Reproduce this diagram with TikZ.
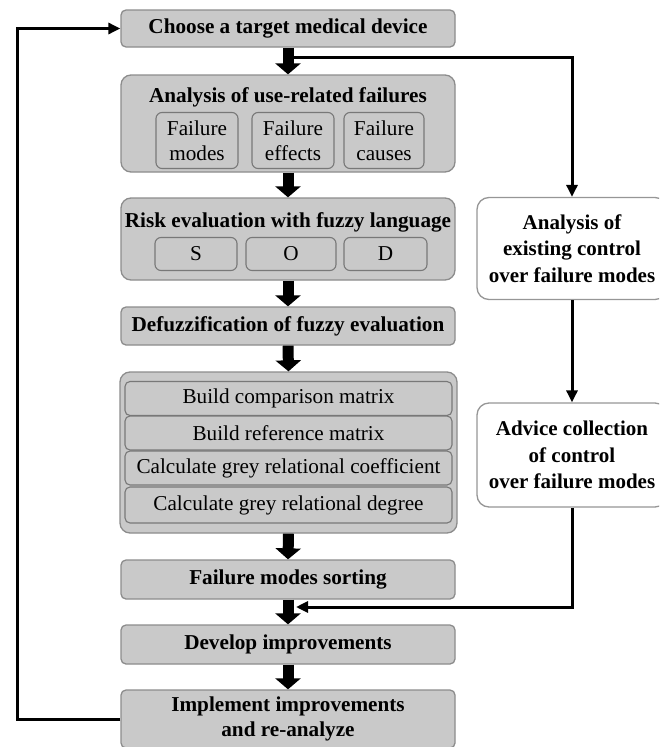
\documentclass[tikz,border=0pt]{standalone}
\usepackage{fontspec}
\setmainfont{Liberation Serif}
\usetikzlibrary{arrows.meta}
\definecolor{boxfill}{RGB}{201,201,201}
\definecolor{boxline}{RGB}{140,140,140}
\definecolor{subline}{RGB}{120,120,120}
\definecolor{whiteline}{RGB}{150,150,150}
\newcommand{\bigsz}{\fontsize{21.2}{25.5}\selectfont}
\newcommand{\sidesz}{\fontsize{21}{26.5}\selectfont}
\tikzset{
  mainbox/.style={draw=boxline, fill=boxfill, rounded corners=5pt, line width=1.3pt, minimum width=334pt, inner sep=0pt, font=\bigsz\bfseries, align=center},
  groupbox/.style={draw=boxline, fill=boxfill, rounded corners=10pt, line width=1.3pt, minimum width=334pt, inner sep=0pt},
  grouptitle/.style={font=\bigsz\bfseries, inner sep=0pt},
  subbox/.style={draw=subline, fill=boxfill, rounded corners=6pt, line width=1.1pt, inner sep=0pt, align=center, font=\bigsz},
  rowbox/.style={draw=subline, fill=boxfill, rounded corners=5pt, line width=1.1pt, inner sep=0pt, minimum width=327pt, minimum height=34pt, font=\bigsz},
  sidebox/.style={draw=whiteline, fill=white, rounded corners=12pt, line width=1.3pt, minimum width=190pt, inner sep=0pt, font=\sidesz\bfseries, align=center},
  bigarrow/.style={line width=11pt, -{Triangle[width=25pt,length=11pt]}},
  thinarrow/.style={line width=3pt, -{Triangle[width=11pt,length=12pt]}}
}
\begin{document}
\begin{tikzpicture}[x=1pt,y=-1pt]
\useasboundingbox (0,0) rectangle (659,747);
\clip (0,0) rectangle (659,747);
% main column
\node[mainbox, minimum height=37pt] (choose) at (288,28.5) {Choose a target medical device};
\node[groupbox, minimum height=97pt] (analysis) at (288,123.5) {};
\node[grouptitle] (analysist) at (288,97) {Analysis of use-related failures};
\node[subbox, minimum width=82pt, minimum height=56pt] (fmodes) at (197,140.5) {Failure\\modes};
\node[subbox, minimum width=82pt, minimum height=56pt] (feffects) at (293,140.5) {Failure\\effects};
\node[subbox, minimum width=80pt, minimum height=56pt] (fcauses) at (384,140.5) {Failure\\causes};

\node[groupbox, minimum height=82pt] (risk) at (288,239) {};
\node[grouptitle] (riskt) at (288,222) {Risk evaluation with fuzzy language};
\node[subbox, minimum width=82pt, minimum height=33pt] (s) at (196,254) {S};
\node[subbox, minimum width=90pt, minimum height=33pt] (o) at (291,254) {O};
\node[subbox, minimum width=83pt, minimum height=33pt] (d) at (385.5,254) {D};

\node[mainbox, minimum height=38pt] (defuzz) at (288,326) {Defuzzification of fuzzy evaluation};

\node[groupbox, minimum height=161pt, minimum width=337pt] (grey) at (288.5,452.5) {};
\node[rowbox] (r1) at (288.5,398.5) {Build comparison matrix};
\node[rowbox] (r2) at (288.5,433) {Build reference matrix};
\node[rowbox] (r3) at (288.5,468) {Calculate grey relational coefficient};
\node[rowbox, minimum height=36pt] (r4) at (288.5,505) {Calculate grey relational degree};

\node[mainbox, minimum height=39pt] (sort) at (288,579.5) {Failure modes sorting};
\node[mainbox, minimum height=39pt] (develop) at (288,644.5) {Develop improvements};
\node[mainbox, minimum height=58pt] (impl) at (288,719) {Implement improvements\\and re-analyze};

% thick arrows
\draw[bigarrow] (choose.south) -- (analysis.north);
\draw[bigarrow] (analysis.south) -- (risk.north);
\draw[bigarrow] (risk.south) -- (defuzz.north);
\draw[bigarrow] (defuzz.south) -- (grey.north);
\draw[bigarrow] (grey.south) -- (sort.north);
\draw[bigarrow] (sort.south) -- (develop.north);
\draw[bigarrow] (develop.south) -- (impl.north);

% side boxes
\node[sidebox, minimum height=102pt] (ctrl) at (572,248.5) {Analysis of\\existing control\\over failure modes};
\node[sidebox, minimum height=104pt] (advice) at (572,455) {Advice collection\\of control\\over failure modes};

% thin connectors
\coordinate (tj) at (294,57);
\coordinate (bj) at (296,607);
\coordinate (lc) at (17,719);
\draw[thinarrow] (tj) -| (ctrl.north);
\draw[thinarrow] (ctrl.south) -- (advice.north);
\draw[thinarrow] (advice.south) |- (bj);
\draw[thinarrow] (impl.west) -- (lc) |- (choose.west);
\end{tikzpicture}
\end{document}
